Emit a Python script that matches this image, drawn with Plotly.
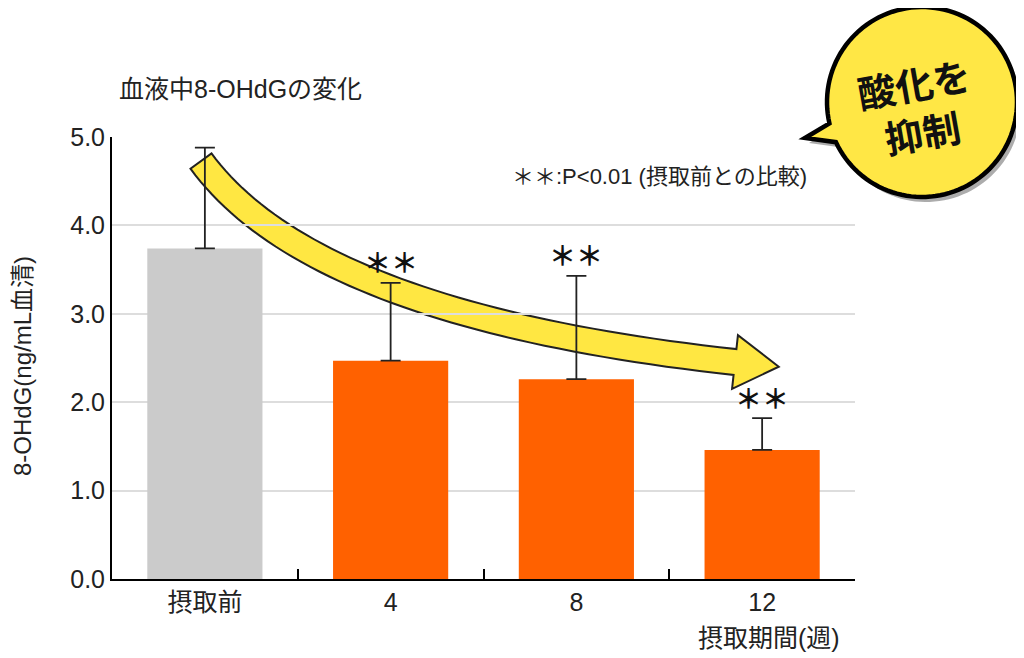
import numpy as np
import plotly.graph_objects as go

# data
categories = ["摂取前", "4", "8", "12"]
means = [3.74, 2.47, 2.26, 1.46]
sd_upper = [1.14, 0.88, 1.17, 0.36]
bar_colors = ["#CBCBCB", "#FF6100", "#FF6100", "#FF6100"]
stars = ["", "＊＊", "＊＊", "＊＊"]

# the page puts the figure 8px in from the top-left corner
OFF = 8
W, H = 1024 - OFF, 658 - OFF
L, T = 112 - OFF, 137 - OFF
R, B = W - (855 - OFF), H - (579 - OFF)
PW, PH = W - L - R, H - T - B

JP = "Noto Sans CJK JP"
NUM = "Liberation Sans, Arial, Noto Sans CJK JP"


def to_paper(x, y):
    """page pixel (from top-left of the window) -> paper coords"""
    return (x - OFF - L) / PW, (H - B - (y - OFF)) / PH


def path_from_points(pts):
    s = []
    for i, (x, y) in enumerate(pts):
        px, py = to_paper(x, y)
        s.append(("M" if i == 0 else "L") + f"{px:.5f},{py:.5f}")
    return " ".join(s) + " Z"


def curved_arrow():
    p0 = np.array([201.0, 161.0])
    c = np.array([314.0, 316.0])
    p1 = np.array([735.0, 362.0])
    t = np.linspace(0, 1, 50)[:, None]
    pts = (1 - t) ** 2 * p0 + 2 * t * (1 - t) * c + t ** 2 * p1
    tan = 2 * (1 - t) * (c - p0) + 2 * t * (p1 - c)
    tan = tan / np.linalg.norm(tan, axis=1)[:, None]
    nrm = np.column_stack([tan[:, 1], -tan[:, 0]])
    hw = 13
    upper = pts + nrm * hw
    lower = pts - nrm * hw
    d, n = tan[-1], nrm[-1]
    head = [p1 + n * 27, p1 + d * 44, p1 - n * 27]
    outline = list(upper) + head + list(lower[::-1])
    return path_from_points(outline)


def speech_bubble(dx=0, dy=0):
    cx, cy, r = 922.0 + dx, 102.0 + dy, 95.0
    a0, a1 = np.radians(167), np.radians(155 + 360)
    ang = np.linspace(a0, a1, 120)
    pts = [(cx + r * np.cos(a), cy + r * np.sin(a)) for a in ang]
    pts.append((805 + dx, 138 + dy))
    return path_from_points(pts)


fig = go.Figure()

fig.add_trace(go.Bar(
    x=categories,
    y=means,
    width=0.62,
    marker=dict(color=bar_colors, line=dict(width=0)),
    error_y=dict(type="data", symmetric=False, array=sd_upper,
                 arrayminus=[0] * len(means), color="#222222",
                 thickness=1.8, width=10),
    hoverinfo="skip",
))

# ** markers above the error bars
for i, (m, e, s) in enumerate(zip(means, sd_upper, stars)):
    if s:
        fig.add_annotation(x=i, y=m + e, text=s, showarrow=False,
                           yanchor="middle", yshift=21,
                           font=dict(family=JP, size=27, color="#111111", weight="bold"))

shapes = [
    dict(type="path", path=curved_arrow(), xref="paper", yref="paper",
         fillcolor="#FFE742", line=dict(color="#222222", width=2), layer="between"),
    dict(type="path", path=speech_bubble(4, 5), xref="paper", yref="paper",
         fillcolor="rgba(90,90,90,0.5)", line=dict(width=0), layer="above"),
    dict(type="path", path=speech_bubble(), xref="paper", yref="paper",
         fillcolor="#FFE745", line=dict(color="#000000", width=4.5), layer="above"),
]

annotations = [
    dict(text="血液中8-OHdGの変化", x=to_paper(117, 0)[0], y=to_paper(0, 89)[1],
         xanchor="left", yanchor="middle", font=dict(family=NUM, size=25, color="#222222")),
    dict(text="8-OHdG(ng/mL血清)", x=to_paper(22, 0)[0], y=to_paper(0, 366)[1],
         textangle=-90, xanchor="center", yanchor="middle",
         font=dict(family=NUM, size=24, color="#222222")),
    dict(text="＊＊:P<0.01 (摂取前との比較)", x=to_paper(510, 0)[0], y=to_paper(0, 176)[1],
         xanchor="left", yanchor="middle", font=dict(family=NUM, size=22, color="#222222")),
    dict(text="摂取期間(週)", x=to_paper(769, 0)[0], y=to_paper(0, 638)[1],
         xanchor="center", yanchor="middle", font=dict(family=NUM, size=25, color="#222222")),
    dict(text="<b>酸化を<br>抑制</b>", x=to_paper(918, 0)[0], y=to_paper(0, 107)[1],
         textangle=-10, xanchor="center", yanchor="middle",
         font=dict(family=JP, size=38, color="#111111", weight=900)),
]
for a in annotations:
    a.update(xref="paper", yref="paper", showarrow=False)
    fig.add_annotation(**a)

fig.update_layout(
    width=W, height=H, autosize=False,
    margin=dict(l=L, r=R, t=T, b=B),
    plot_bgcolor="white", paper_bgcolor="white",
    showlegend=False,
    shapes=shapes,
    xaxis=dict(type="category", range=[-0.5, 3.5], showline=True, linecolor="black",
               linewidth=2, ticks="inside", ticklen=10, tickwidth=2, tickcolor="black",
               tickson="boundaries", showgrid=False,
               tickfont=dict(family=NUM, size=25, color="#222222")),
    yaxis=dict(range=[0, 5], dtick=1, tickformat=".1f", showline=True, linecolor="black",
               linewidth=2, ticks="", showgrid=True, gridcolor="#DDDDDD", gridwidth=2,
               zeroline=False, tickfont=dict(family=NUM, size=25, color="#222222")),
)

fig.write_html("out.html")
